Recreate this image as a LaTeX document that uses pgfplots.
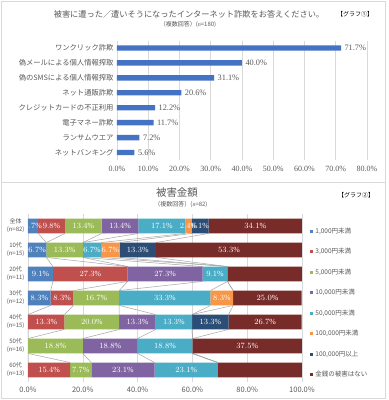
\documentclass[border=0pt]{standalone}
\usepackage{pgfplots}
\pgfplotsset{compat=1.18}
\usepackage{fontspec}
\setmainfont{Liberation Serif}
\newfontfamily\jp{Noto Sans CJK JP}
\definecolor{textgray}{HTML}{595959}
\definecolor{framegray}{HTML}{D9D9D9}
\definecolor{gridgray}{HTML}{D9D9D9}
\definecolor{linegray}{HTML}{A6A6A6}
\definecolor{barblue}{HTML}{4472C4}
\definecolor{c1}{HTML}{4F81BD}
\definecolor{c2}{HTML}{C0504D}
\definecolor{c3}{HTML}{9BBB59}
\definecolor{c4}{HTML}{8064A2}
\definecolor{c5}{HTML}{4BACC6}
\definecolor{c6}{HTML}{F79646}
\definecolor{c7}{HTML}{2C4D75}
\definecolor{c8}{HTML}{772C2A}
\pgfplotsset{seriesline/.style={draw=linegray, line width=0.5pt, mark=none}}
\begin{document}
\begin{tikzpicture}
\useasboundingbox (0pt,0pt) rectangle (389pt,400pt);
\fill[white] (0pt,0pt) rectangle (389pt,400pt);
\draw[framegray,line width=0.6pt] (1.5pt,218pt) rectangle (385pt,398.5pt);
\draw[framegray,line width=0.6pt] (1.5pt,1.5pt) rectangle (385pt,218pt);
% titles top
\node[font=\jp\fontsize{8.2}{9}\selectfont, text=textgray] at (189pt,386pt) {被害に遭った／遭いそうになったインターネット詐欺をお答えください。};
\node[font=\jp\fontsize{6}{7}\selectfont, text=black] at (355pt,386pt) {【グラフ①】};
\node[font=\jp\fontsize{6}{7}\selectfont, text=textgray] at (188pt,375pt) {（複数回答）({\rmfamily\itshape n}=180)};
% titles bottom
\node[font=\jp\fontsize{10.5}{12}\selectfont, text=textgray] at (177pt,207pt) {被害金額};
\node[font=\jp\fontsize{6}{7}\selectfont, text=textgray] at (181pt,195pt) {（複数回答）({\rmfamily\itshape n}=82)};
\node[font=\jp\fontsize{6}{7}\selectfont, text=black] at (356pt,205pt) {【グラフ②】};

% ---------- top chart ----------
\begin{axis}[
  at={(117pt,359.5pt)}, anchor=north west, scale only axis,
  width=250pt, height=119.5pt,
  xbar, bar width=0.36,
  xmin=0, xmax=80, ymin=-0.5, ymax=7.5, y dir=reverse,
  xtick={0,10,...,80}, xmajorgrids, grid style={gridgray, line width=0.5pt},
  ytick={0,...,7},
  yticklabels={ワンクリック詐欺,偽メールによる個人情報搾取,偽のSMSによる個人情報搾取,ネット通販詐欺,クレジットカードの不正利用,電子マネー詐欺,ランサムウエア,ネットバンキング},
  yticklabel style={font=\jp\fontsize{7.3}{8}\selectfont, text=textgray},
  axis line style={draw=none}, major tick length=0,
  /pgf/number format/assume math mode=true,
  xticklabel={\pgfmathprintnumber[fixed,fixed zerofill,precision=1]{\tick}\%},
  xticklabel style={font=\fontsize{8}{9}\selectfont, text=textgray, yshift=-3pt},
  point meta=x,
  nodes near coords={\pgfmathprintnumber[fixed,fixed zerofill,precision=1]{\pgfplotspointmeta}\%},
  nodes near coords style={font=\fontsize{8.3}{9}\selectfont, text=textgray},
]
\addplot[fill=barblue, draw=none] coordinates {(71.7,0) (40.0,1) (31.1,2) (20.6,3) (12.2,4) (11.7,5) (7.2,6) (5.6,7)};
\end{axis}

% ---------- bottom chart: grid, labels, series lines ----------
\begin{axis}[
  at={(28pt,186pt)}, anchor=north west, scale only axis,
  width=274pt, height=168pt,
  xmin=0, xmax=100, ymin=-0.5, ymax=6.5, y dir=reverse,
  xtick={0,20,...,100}, xmajorgrids, grid style={gridgray, line width=0.5pt},
  ytick={0,...,6},
  yticklabels={{全体\\(n=82)},{10代\\(n=15)},{20代\\(n=11)},{30代\\(n=12)},{40代\\(n=15)},{50代\\(n=16)},{60代\\(n=13)}},
  yticklabel style={font=\jp\fontsize{6}{8}\selectfont, align=center, text=textgray},
  axis line style={draw=none}, major tick length=0,
  unbounded coords=jump,
  /pgf/number format/assume math mode=true,
  xticklabel={\pgfmathprintnumber[fixed,fixed zerofill,precision=1]{\tick}\%},
  xticklabel style={font=\jp\fontsize{7.5}{8}\selectfont, text=textgray, yshift=-1pt},
]
\addplot[seriesline] coordinates {(3.7,0.31) (6.7,0.69) (nan,nan) (6.7,1.31) (9.1,1.69) (nan,nan) (9.1,2.31) (8.3,2.69) (nan,nan) (8.3,3.31) (0,3.69) (nan,nan) (0,4.31) (0,4.69) (nan,nan) (0,5.31) (0,5.69)};
\addplot[seriesline] coordinates {(13.5,0.31) (6.7,0.69) (nan,nan) (6.7,1.31) (36.4,1.69) (nan,nan) (36.4,2.31) (16.6,2.69) (nan,nan) (16.6,3.31) (13.3,3.69) (nan,nan) (13.3,4.31) (0,4.69) (nan,nan) (0,5.31) (15.4,5.69)};
\addplot[seriesline] coordinates {(26.9,0.31) (20.0,0.69) (nan,nan) (20.0,1.31) (36.4,1.69) (nan,nan) (36.4,2.31) (33.3,2.69) (nan,nan) (33.3,3.31) (33.3,3.69) (nan,nan) (33.3,4.31) (20,4.69) (nan,nan) (20,5.31) (23.1,5.69)};
\addplot[seriesline] coordinates {(40.3,0.31) (20.0,0.69) (nan,nan) (20.0,1.31) (63.7,1.69) (nan,nan) (63.7,2.31) (33.3,2.69) (nan,nan) (33.3,3.31) (46.6,3.69) (nan,nan) (46.6,4.31) (40,4.69) (nan,nan) (40,5.31) (46.2,5.69)};
\addplot[seriesline] coordinates {(57.4,0.31) (26.7,0.69) (nan,nan) (26.7,1.31) (72.8,1.69) (nan,nan) (72.8,2.31) (66.6,2.69) (nan,nan) (66.6,3.31) (59.9,3.69) (nan,nan) (59.9,4.31) (60,4.69) (nan,nan) (60,5.31) (69.3,5.69)};
\addplot[seriesline] coordinates {(59.8,0.31) (33.4,0.69) (nan,nan) (33.4,1.31) (72.8,1.69) (nan,nan) (72.8,2.31) (74.9,2.69) (nan,nan) (74.9,3.31) (59.9,3.69) (nan,nan) (59.9,4.31) (60,4.69) (nan,nan) (60,5.31) (69.3,5.69)};
\addplot[seriesline] coordinates {(65.9,0.31) (46.7,0.69) (nan,nan) (46.7,1.31) (72.8,1.69) (nan,nan) (72.8,2.31) (74.9,2.69) (nan,nan) (74.9,3.31) (73.2,3.69) (nan,nan) (73.2,4.31) (60,4.69) (nan,nan) (60,5.31) (69.3,5.69)};
\end{axis}

% ---------- bottom chart: stacked bars ----------
\begin{axis}[
  at={(28pt,186pt)}, anchor=north west, scale only axis,
  width=274pt, height=168pt,
  xmin=0, xmax=100, ymin=-0.5, ymax=6.5, y dir=reverse,
  hide axis,
  xbar stacked, bar width=0.62,
  point meta=explicit,
  nodes near coords={\pgfmathfloatifflags{\pgfplotspointmeta}{0}{}{\pgfmathprintnumber[fixed,fixed zerofill,precision=1]{\pgfplotspointmeta}\%}},
  nodes near coords style={font=\fontsize{7.8}{8}\selectfont, text=white},
  legend style={at={(1.03,0.93)}, anchor=north west, draw=none, fill=none,
    font=\jp\fontsize{6.5}{7}\selectfont, text=textgray, row sep=9.5pt, inner sep=0pt},
  legend cell align=left,
  legend image code/.code={\fill[#1] (0pt,-1.5pt) rectangle (3pt,1.5pt);},
]
\addplot[fill=c1, draw=none] coordinates {(3.7,0)[3.7] (6.7,1)[6.7] (9.1,2)[9.1] (8.3,3)[8.3] (0,4)[0] (0,5)[0] (0,6)[0]};
\addlegendentry{1,000円未満}
\addplot[fill=c2, draw=none] coordinates {(9.8,0)[9.8] (0,1)[0] (27.3,2)[27.3] (8.3,3)[8.3] (13.3,4)[13.3] (0,5)[0] (15.4,6)[15.4]};
\addlegendentry{3,000円未満}
\addplot[fill=c3, draw=none] coordinates {(13.4,0)[13.4] (13.3,1)[13.3] (0,2)[0] (16.7,3)[16.7] (20.0,4)[20.0] (20,5)[18.8] (7.7,6)[7.7]};
\addlegendentry{5,000円未満}
\addplot[fill=c4, draw=none] coordinates {(13.4,0)[13.4] (0,1)[0] (27.3,2)[27.3] (0,3)[0] (13.3,4)[13.3] (20,5)[18.8] (23.1,6)[23.1]};
\addlegendentry{10,000円未満}
\addplot[fill=c5, draw=none] coordinates {(17.1,0)[17.1] (6.7,1)[6.7] (9.1,2)[9.1] (33.3,3)[33.3] (13.3,4)[13.3] (20,5)[18.8] (23.1,6)[23.1]};
\addlegendentry{50,000円未満}
\addplot[fill=c6, draw=none] coordinates {(2.4,0)[2.4] (6.7,1)[6.7] (0,2)[0] (8.3,3)[8.3] (0,4)[0] (0,5)[0] (0,6)[0]};
\addlegendentry{100,000円未満}
\addplot[fill=c7, draw=none] coordinates {(6.1,0)[6.1] (13.3,1)[13.3] (0,2)[0] (0,3)[0] (13.3,4)[13.3] (0,5)[0] (0,6)[0]};
\addlegendentry{100,000円以上}
\addplot[fill=c8, draw=none] coordinates {(34.1,0)[34.1] (53.3,1)[53.3] (27.3,2)[27.3] (25.0,3)[25.0] (26.7,4)[26.7] (40,5)[37.5] (30.8,6)[30.8]};
\addlegendentry{金銭の被害はない}
\end{axis}
\end{tikzpicture}
\end{document}
